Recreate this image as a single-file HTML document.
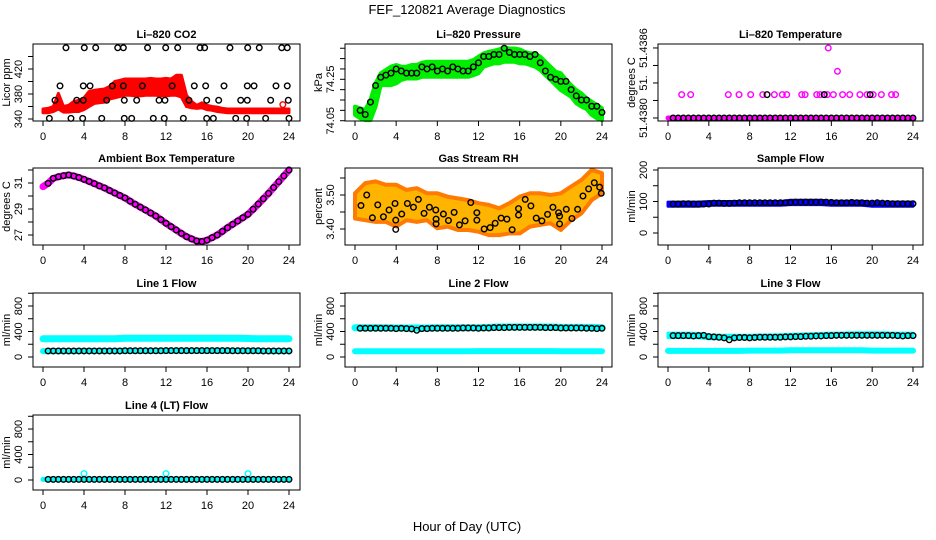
<!DOCTYPE html>
<html><head><meta charset="utf-8">
<style>
html,body{margin:0;padding:0;background:#fff;}
svg{display:block;font-family:"Liberation Sans",Arial,sans-serif;}
</style></head>
<body>
<svg id="chart" width="936" height="540" viewBox="0 0 936 540" xmlns="http://www.w3.org/2000/svg">
<text x="467" y="14" font-size="13" text-anchor="middle">FEF_120821  Average Diagnostics</text>
<text x="467" y="531" font-size="13" text-anchor="middle">Hour of Day (UTC)</text>
</svg>
<script>
// ---- shared categories ----
const HALF = [0.5,1,1.5,2,2.5,3,3.5,4,4.5,5,5.5,6,6.5,7,7.5,8,8.5,9,9.5,10,10.5,11,11.5,12,12.5,13,13.5,14,14.5,15,15.5,16,16.5,17,17.5,18,18.5,19,19.5,20,20.5,21,21.5,22,22.5,23,23.5,24];
const HALF0 = [0,0.5,1,1.5,2,2.5,3,3.5,4,4.5,5,5.5,6,6.5,7,7.5,8,8.5,9,9.5,10,10.5,11,11.5,12,12.5,13,13.5,14,14.5,15,15.5,16,16.5,17,17.5,18,18.5,19,19.5,20,20.5,21,21.5,22,22.5,23,23.5,24];
const HOURS = [0,1,2,3,4,5,6,7,8,9,10,11,12,13,14,15,16,17,18,19,20,21,22,23,24];
const X_TICKS = [0,4,8,12,16,20,24];

// ---- CO2 ----
const co2Low = [350,350,352,356,351,351,352,352,355,360,365,366,367,372,374,376,378,378,377,377,378,378,378,377,377,378,378,375,360,358,357,358,355,354,352,351,350,350,350,350,350,350,350,350,350,350,350,350,350];
const co2High = [356,357,360,381,360,362,368,370,374,384,386,387,388,392,400,402,404,404,404,404,404,405,404,404,405,404,410,410,378,368,362,366,362,360,359,357,356,356,356,356,356,356,356,356,356,356,356,356,356];
const co2BlackHr = [2.24,4.03,5.14,7.29,7.84,10.2,11.97,13.14,15.32,15.77,18.24,19.97,21.1,23.29,23.83, 1.66,3.93,4.59,6.76,7.84,9.69,12.6,14.76,15.87,17.66,19.93,20.59,22.73,23.83, 1.17,3.29,3.93,6.21,7.93,9.14,11.32,11.9,14.24,15.97,17.14,19.29,19.93,22.21,23.93, 0.62,2.73,3.87,5.73,7.93,8.65,10.76,11.83,13.69,15.97,16.62,18.8,19.87,21.72,24];
const co2BlackVal = [454,454,454,454,454,454,454,454,454,454,454,454,454,454,454, 393,393,393,393,393,393,393,393,393,393,393,393,393,393, 370,370,370,370,370,370,370,370,370,370,370,370,370,370,370, 341,341,341,341,341,341,341,341,341,341,341,341,341,341,341];

// ---- Pressure ----
const presLow = [74.078,74.062,74.053,74.053,74.118,74.222,74.222,74.222,74.230,74.247,74.254,74.254,74.254,74.262,74.262,74.262,74.262,74.262,74.262,74.262,74.262,74.262,74.262,74.270,74.279,74.311,74.319,74.327,74.327,74.335,74.335,74.335,74.327,74.327,74.319,74.311,74.295,74.270,74.247,74.222,74.198,74.182,74.166,74.134,74.118,74.106,74.078,74.062,74.053];
const presHigh = [74.118,74.110,74.102,74.150,74.230,74.279,74.295,74.311,74.319,74.311,74.311,74.319,74.319,74.330,74.335,74.335,74.335,74.335,74.335,74.335,74.335,74.335,74.335,74.343,74.359,74.375,74.383,74.388,74.394,74.404,74.399,74.399,74.394,74.383,74.375,74.375,74.359,74.335,74.311,74.287,74.279,74.247,74.222,74.198,74.182,74.158,74.142,74.126,74.110];
const presBlack = [74.10,74.08,74.14,74.22,74.26,74.27,74.28,74.30,74.29,74.28,74.28,74.28,74.31,74.30,74.31,74.29,74.30,74.29,74.31,74.30,74.29,74.29,74.31,74.33,74.36,74.36,74.37,74.37,74.40,74.38,74.37,74.37,74.37,74.36,74.37,74.33,74.29,74.26,74.25,74.24,74.24,74.20,74.17,74.15,74.15,74.12,74.12,74.09];

// ---- Li-820 Temperature ----
const tempMagHr = [1.34,2.22,5.91,6.96,8.1,9.28,10.42,11.2,11.63,13.1,13.43,14.57,14.9,15.3,15.6,16.2,17.1,17.8,18.8,19.5,20.1,20.9,21.9,22.3,15.7,16.6];
const tempMagVal = [51.4382,51.4382,51.4382,51.4382,51.4382,51.4382,51.4382,51.4382,51.4382,51.4382,51.4382,51.4382,51.4382,51.4382,51.4382,51.4382,51.4382,51.4382,51.4382,51.4382,51.4382,51.4382,51.4382,51.4382,51.4386,51.4384];
const tempBlackExtraHr = [9.7,15.3,19.8];
const tempBase = 51.4380;

// ---- Ambient box temperature ----
const ambCurve = [30.72,30.97,31.36,31.48,31.56,31.62,31.54,31.42,31.28,31.12,30.95,30.78,30.62,30.42,30.23,30.04,29.85,29.6,29.36,29.14,28.92,28.69,28.46,28.18,27.9,27.64,27.38,27.12,26.87,26.7,26.54,26.5,26.6,26.8,27.0,27.28,27.56,27.82,28.08,28.33,28.59,28.98,29.38,29.79,30.2,30.65,31.1,31.55,32.0];

// ---- Gas stream RH ----
const rhHigh = [3.505,3.535,3.540,3.530,3.530,3.515,3.520,3.505,3.505,3.495,3.490,3.485,3.476,3.471,3.461,3.476,3.495,3.505,3.505,3.500,3.505,3.525,3.544,3.574,3.564];
const rhLow = [3.431,3.426,3.421,3.421,3.407,3.426,3.421,3.426,3.402,3.407,3.397,3.397,3.392,3.382,3.382,3.387,3.387,3.407,3.412,3.417,3.397,3.426,3.446,3.485,3.505];
const rhBlackHr = [0.58,1.14,1.69,2.21,2.76,3.31,3.89,3.96,3.96,4.54,5.09,5.68,6.16,6.71,7.23,7.85,7.88,7.88,8.59,9.08,9.63,10.15,10.7,11.25,11.84,11.84,12.55,13.13,13.62,14.2,14.76,15.27,15.89,15.89,16.54,17.09,17.61,18.16,18.71,19.23,19.78,19.88,19.88,20.53,21.08,21.63,22.15,22.7,23.25,23.77,23.93];
const rhBlackVal = [3.469,3.500,3.433,3.471,3.436,3.456,3.475,3.399,3.426,3.444,3.475,3.464,3.487,3.446,3.464,3.456,3.429,3.415,3.444,3.425,3.449,3.412,3.424,3.478,3.448,3.426,3.400,3.404,3.417,3.432,3.429,3.398,3.441,3.460,3.487,3.468,3.432,3.424,3.443,3.464,3.448,3.438,3.415,3.458,3.431,3.458,3.497,3.518,3.536,3.523,3.505];

// ---- Sample flow ----
const sfLow = [85,85,85,85,88,88,88,88,88,88,88,88,90,90,90,90,88,88,88,88,85,85,85,85,85];
const sfHigh = [98,98,98,98,100,100,100,100,100,100,100,100,104,104,104,104,101,101,101,101,98,98,98,98,98];
const sfBlack = [92,92,93,93,92,92,92,92,95,95,94,94,95,96,96,96,96,96,96,96,96,96,96,97,98,98,98,98,98,98,98,97,96,96,96,97,96,96,95,95,96,95,94,93,93,93,93,93];

// ---- Line flows ----
const l1High = [285,285,285,285,285,285,285,285,295,295,295,295,295,295,295,295,295,295,295,295,290,285,285,285,285];
const l1Low = [92,92,92,92,95,95,95,95,95,95,95,95,98,98,98,98,98,98,98,98,95,95,92,92,92];
const l1Black = [95,95,95,95,95,95,95,95,95,95,95,95,95,95,95,98,98,98,98,98,98,98,98,100,100,100,100,100,100,100,100,100,100,100,100,100,98,98,98,98,98,98,95,95,95,95,95,95];
const l2High = [460,460,460,460,455,455,455,455,460,460,460,460,460,465,470,470,470,470,470,470,465,465,465,465,460];
const l2Low = [90,90,90,90,90,90,90,90,90,90,90,90,92,92,92,92,92,92,92,92,90,90,90,90,90];
const l2Black = [450,450,450,450,450,450,450,445,450,445,440,420,445,445,450,450,450,450,450,450,455,455,455,450,455,455,460,460,460,465,465,465,465,465,465,465,460,460,460,455,455,455,455,455,450,450,445,450];
const l3High = [375,375,375,370,345,340,340,340,340,345,345,350,355,360,365,370,375,375,380,380,380,380,375,375,375];
const l3Low = [305,305,305,300,285,285,285,290,290,290,295,300,305,310,315,320,320,325,325,325,325,325,320,320,320];
const l3Low2 = [95,95,95,95,95,95,95,95,100,100,100,100,105,105,105,105,105,105,105,105,100,100,100,100,100];
const l3Black = [335,335,335,335,330,335,340,320,315,310,300,270,300,305,305,300,305,310,310,310,310,310,315,315,320,320,325,325,330,330,335,335,340,340,340,340,340,340,340,340,340,340,340,340,335,330,335,335];
const l4Cyan = [10,10,10,10,10,10,10,10,10,10,10,10,10,10,10,10,10,10,10,10,10,10,10,10,10];
const l4SpikeHr = [4,12,20];
const l4SpikeVal = [100,100,100];
const l4Black = [10,10,10,10,10,10,10,10,10,10,10,10,10,10,10,10,10,10,10,10,10,10,10,10,10,10,10,10,10,10,10,10,10,10,10,10,10,10,10,10,10,10,10,10,10,10,10,10];

const NS = 'http://www.w3.org/2000/svg';
const svg = document.getElementById('chart');
const COLS = [{l:33,r:300,x0:43,x1:289},{l:345,r:612,x0:355,x1:602},{l:658,r:923,x0:668,x1:913}];
const ROWS = [{t:44,b:121},{t:168,b:245},{t:293,b:367},{t:415,b:490}];

function mk(tag, attrs, parent){
  const e = document.createElementNS(NS, tag);
  for (const k in attrs) e.setAttribute(k, attrs[k]);
  (parent||svg).appendChild(e);
  return e;
}

function makePanel(name, c, r, ylim, yTicks, yLabels, title, ytitle){
  const C = COLS[c], R = ROWS[r];
  const g = mk('g', {});
  
  
  const sx = v => C.x0 + (v/24)*(C.x1-C.x0);
  const sy = v => R.b - (v-ylim[0])/(ylim[1]-ylim[0])*(R.b-R.t);
  const plot = mk('g', {}, g);
  
  
  const fr = mk('rect', {x:C.l, y:R.t, width:C.r-C.l, height:R.b-R.t, fill:'none', stroke:'#000', 'stroke-width':1}, g);
  
  
  const xa = mk('g', {}, g);
  
  
  mk('line', {x1:sx(0), x2:sx(24), y1:R.b, y2:R.b, stroke:'#000'}, xa);
  X_TICKS.forEach(t => {
    mk('line', {x1:sx(t), x2:sx(t), y1:R.b, y2:R.b+5, stroke:'#000'}, xa);
    const tx = mk('text', {x:sx(t), y:R.b+19, 'font-size':11, 'text-anchor':'middle'}, xa);
    
    
    tx.textContent = t;
  });
  const ya = mk('g', {}, g);
  
  
  mk('line', {x1:C.l, x2:C.l, y1:sy(yTicks[0]), y2:sy(yTicks[yTicks.length-1]), stroke:'#000'}, ya);
  yTicks.forEach(t => mk('line', {x1:C.l-5, x2:C.l, y1:sy(t), y2:sy(t), stroke:'#000'}, ya));
  yLabels.forEach(([v, s]) => {
    const x = C.l-11, y = sy(v);
    const tx = mk('text', {x:x, y:y, 'font-size':11, 'text-anchor':'middle', transform:`rotate(-90 ${x} ${y})`}, ya);
    
    
    tx.textContent = s;
  });
  const yt = mk('text', {x:C.l-23, y:(R.t+R.b)/2, 'font-size':11, 'text-anchor':'middle', transform:`rotate(-90 ${C.l-23} ${(R.t+R.b)/2})`}, g);
  
  
  yt.textContent = ytitle;
  const tt = mk('text', {x:(C.l+C.r)/2, y:R.t-6, 'font-size':11, 'font-weight':'bold', 'text-anchor':'middle'}, g);
  
  
  tt.textContent = title;
  return {g: plot, sx, sy};
}

function band(P, xs, lo, hi, fill, stroke, sw, nm){
  let d = '';
  xs.forEach((x,i) => d += (i?'L':'M') + P.sx(x).toFixed(1) + ',' + P.sy(hi[i]).toFixed(1));
  for (let i = xs.length-1; i >= 0; i--) d += 'L' + P.sx(xs[i]).toFixed(1) + ',' + P.sy(lo[i]).toFixed(1);
  const p = mk('path', {d: d+'Z', fill: fill, stroke: stroke, 'stroke-width': sw, 'stroke-linejoin':'round'}, P.g);
  
  
}
function line(P, xs, ys, color, sw, nm){
  const pts = xs.map((x,i) => P.sx(x).toFixed(1)+','+P.sy(ys[i]).toFixed(1)).join(' ');
  const p = mk('polyline', {points: pts, fill:'none', stroke: color, 'stroke-width': sw, 'stroke-linecap':'round', 'stroke-linejoin':'round'}, P.g);
  
  
}
function pts(P, xs, ys, color, nm, r){
  xs.forEach((x,i) => {
    const c = mk('circle', {cx:P.sx(x), cy:P.sy(ys[i]), r:r||2.8, fill:'none', stroke:color, 'stroke-width':1.4}, P.g);
    
    
  });
}

// CO2
let P = makePanel('co2', 0, 0, [336.8, 460], [340,360,380,400,420,440], [[340,'340'],[380,'380'],[420,'420']], 'Li\u2013820 CO2', 'Licor ppm');
band(P, HALF0, co2Low, co2High, '#ff0000', '#ff0000', 3, 'co2-red-band');
pts(P, [23.4], [363], '#ff0000', 'co2-red-point');
pts(P, co2BlackHr, co2BlackVal, '#000', 'co2-black-point');

// Pressure
P = makePanel('pressure', 1, 0, [74.0486, 74.4205], [74.05,74.10,74.15,74.20,74.25,74.30,74.35,74.40], [[74.05,'74.05'],[74.25,'74.25']], 'Li\u2013820 Pressure', 'kPa');
band(P, HALF0, presLow, presHigh, '#00ee00', '#00ee00', 4, 'pressure-green-band');
pts(P, HALF, presBlack, '#000', 'pressure-black-point');

// Li-820 temperature
P = makePanel('li820-temp', 2, 0, [51.437974, 51.438634], [51.438,51.43815,51.4383,51.43845,51.4386], [[51.438,'51.4380'],[51.4383,'51.'],[51.4386,'51.4386']], 'Li\u2013820 Temperature', 'degrees C');
line(P, [0,24], [tempBase,tempBase], '#ff00ff', 5, 'temp-magenta-base');
pts(P, tempMagHr, tempMagVal, '#ff00ff', 'temp-magenta-point');
pts(P, HALF, HALF.map(() => tempBase), '#000', 'temp-black-point');
pts(P, tempBlackExtraHr, tempBlackExtraHr.map(() => 51.4382), '#000', 'temp-black-point');

// Ambient
P = makePanel('ambient-temp', 0, 1, [26.23, 32.154], [27,28,29,30,31,32], [[27,'27'],[29,'29'],[31,'31']], 'Ambient Box Temperature', 'degrees C');
line(P, HALF0, ambCurve, '#ff00ff', 7, 'ambient-magenta-line');
pts(P, HALF, ambCurve.slice(1), '#000', 'ambient-black-point');

// RH
P = makePanel('gas-rh', 1, 1, [3.353, 3.5794], [3.40,3.45,3.50,3.55], [[3.40,'3.40'],[3.50,'3.50']], 'Gas Stream RH', 'percent');
band(P, HOURS, rhLow, rhHigh, '#ffb400', '#ff7a00', 4, 'rh-orange-band');
pts(P, rhBlackHr, rhBlackVal, '#000', 'rh-black-point');

// Sample flow
P = makePanel('sample-flow', 2, 1, [-38.1, 206.3], [0,50,100,150,200], [[0,'0'],[100,'100'],[200,'200']], 'Sample Flow', 'ml/min');
band(P, HOURS, sfLow, sfHigh, '#0000ff', '#0000ff', 3, 'sample-blue-band');
pts(P, HALF, sfBlack, '#000', 'sample-black-point');

const FT = [0,200,400,600,800,1000], FL = [[0,'0'],[400,'400'],[800,'800']];
P = makePanel('line1-flow', 0, 2, [-157, 1004], FT, FL, 'Line 1 Flow', 'ml/min');
line(P, HOURS, l1High, '#00ffff', 7, 'line1-cyan-high');
line(P, HOURS, l1Low, '#00ffff', 6, 'line1-cyan-low');
pts(P, HALF, l1Black, '#000', 'line1-black-point');
P = makePanel('line2-flow', 1, 2, [-157, 1004], FT, FL, 'Line 2 Flow', 'ml/min');
line(P, HOURS, l2High, '#00ffff', 7, 'line2-cyan-high');
line(P, HOURS, l2Low, '#00ffff', 6, 'line2-cyan-low');
pts(P, HALF, l2Black, '#000', 'line2-black-point');
P = makePanel('line3-flow', 2, 2, [-157, 1004], FT, FL, 'Line 3 Flow', 'ml/min');
band(P, HOURS, l3Low, l3High, '#00ffff', '#00ffff', 3, 'line3-cyan-band');
line(P, HOURS, l3Low2, '#00ffff', 6, 'line3-cyan-low');
pts(P, HALF, l3Black, '#000', 'line3-black-point');
P = makePanel('line4-flow', 0, 3, [-157, 1020], FT, FL, 'Line 4 (LT) Flow', 'ml/min');
line(P, HOURS, l4Cyan, '#00ffff', 5, 'line4-cyan');
pts(P, l4SpikeHr, l4SpikeVal, '#00ffff', 'line4-cyan-spike');
pts(P, HALF, l4Black, '#000', 'line4-black-point');
</script>
</body></html>
